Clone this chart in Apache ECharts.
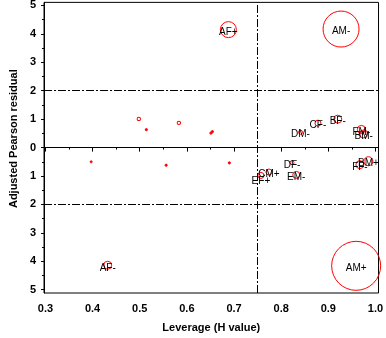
<!DOCTYPE html>
<html>
<head>
<meta charset="utf-8">
<script src="https://cdn.jsdelivr.net/npm/echarts@6/dist/echarts.min.js"></script>
<style>
html,body{margin:0;padding:0;background:#fff;}
#chart{width:386px;height:338px;}
</style>
</head>
<body>
<div id="chart"></div>
<script>
// ---- data ----
const pointNames = ['AF+','AM-','AM+','AF-','CF-','BF-','DM-','FM-','BM-','DF-','EM-','BM+','FF-','CM+','EF+',
                    '','','','','','','',''];
const leverage = [0.688,0.927,0.959,0.432,0.878,0.920,0.841,0.970,0.975,0.823,0.832,0.985,0.967,0.774,0.757,
                  0.498,0.514,0.583,0.651,0.654,0.397,0.556,0.690];
const residual = [4.15,4.17,-4.16,-4.14,0.86,1.00,0.54,0.64,0.48,-0.53,-0.96,-0.48,-0.60,-0.86,-0.98,
                  1.01,0.63,0.87,0.51,0.56,-0.50,-0.62,-0.54];
const influence = [8,18,24.5,4,3,4,2,4,4,2,3.5,4.5,4,3,3,
                   1.7,1.1,1.7,1.1,1.1,1,1.1,1.1];
const refY = [2,0,-2];
const refX = [0.75];
const xTicks = [0.3,0.4,0.5,0.6,0.7,0.8,0.9,1.0];
const xTickLabels = ['0.3','0.4','0.5','0.6','0.7','0.8','0.9','1.0'];
const xMinorTicks = [0.35,0.45,0.55,0.65,0.75,0.85,0.95];
const yTicks = [5,4,3,2,1,0,-1,-2,-3,-4,-5];
const yTickLabels = ['5','4','3','2','1','0','1','2','3','4','5'];
const yMinorTicks = [4.5,3.5,2.5,1.5,0.5,-0.5,-1.5,-2.5,-3.5,-4.5];

// ---- styles ----
const FONT = 'Liberation Sans';
const labelOffsets = {'EF+':[0,6]};
const dashDot = [8,2,2,2];

const chart = echarts.init(document.getElementById('chart'), null, {renderer:'canvas'});
const data = leverage.map((x,i)=>{
  const item = {name: pointNames[i], value:[x, residual[i], influence[i]]};
  if (labelOffsets[pointNames[i]]) item.label = {offset: labelOffsets[pointNames[i]]};
  return item;
});

const xMin = 0.3 - 1.5/494, xMax = xMin + 350.5/494;
const yMax = 5.109, yMin = -5.116;

chart.setOption({
  animation:false,
  backgroundColor:'#fff',
  grid:{left:31, right:4.5, top:1, bottom:42, show:true, borderColor:'#000', borderWidth:1, backgroundColor:'transparent'},
  xAxis:[{
    type:'value', min:xMin, max:xMax,
    axisLine:{show:true, lineStyle:{color:'#000', width:1}},
    axisTick:{show:true, customValues:xTicks, length:4, lineStyle:{color:'#000'}},
    axisLabel:{customValues:xTicks, formatter:v=>xTickLabels[xTicks.findIndex(t=>Math.abs(t-v)<1e-6)],
               margin:10, color:'#000', fontFamily:FONT, fontSize:11, fontWeight:'bold'},
    splitLine:{show:false},
    name:'Leverage (H value)', nameLocation:'middle', nameGap:29,
    nameTextStyle:{color:'#000', fontFamily:FONT, fontSize:11, fontWeight:'bold'}
  },{
    type:'value', min:xMin, max:xMax, position:'bottom',
    axisLine:{show:false},
    axisTick:{show:true, customValues:xMinorTicks, length:2, lineStyle:{color:'#000'}},
    axisLabel:{show:false}, splitLine:{show:false}
  }],
  yAxis:[{
    type:'value', min:yMin, max:yMax,
    axisLine:{show:true, lineStyle:{color:'#000', width:1}},
    axisTick:{show:true, customValues:yTicks, length:3, lineStyle:{color:'#000'}},
    axisLabel:{customValues:yTicks, formatter:v=>yTickLabels[yTicks.findIndex(t=>Math.abs(t-v)<1e-6)],
               margin:8, color:'#000', fontFamily:FONT, fontSize:11, fontWeight:'bold'},
    splitLine:{show:false},
    name:'Adjusted Pearson residual', nameLocation:'middle', nameGap:13,
    nameTextStyle:{color:'#000', fontFamily:FONT, fontSize:11, fontWeight:'bold', padding:[0,0,0,18]}
  },{
    type:'value', min:yMin, max:yMax, position:'left',
    axisLine:{show:false},
    axisTick:{show:true, customValues:yMinorTicks, length:2, lineStyle:{color:'#000'}},
    axisLabel:{show:false}, splitLine:{show:false}
  }],
  series:[{
    type:'scatter', xAxisIndex:0, yAxisIndex:0,
    data:data,
    symbol:'circle',
    symbolSize:v=>2*v[2],
    itemStyle:{color:p=>p.value[2] < 1.5 ? '#ff0000' : 'rgba(0,0,0,0)', borderColor:'#ff0000', borderWidth:1, opacity:1},
    label:{show:true, position:'inside', formatter:p=>p.name, color:'#000',
           fontFamily:FONT, fontSize:10, offset:[0,2.5]},
    emphasis:{disabled:true},
    markLine:{
      silent:true, symbol:'none', animation:false,
      label:{show:false},
      lineStyle:{color:'#000', width:1, type:dashDot},
      data:[...refY.map(v=>({yAxis:v})), ...refX.map(v=>({xAxis:v}))]
    }
  }]
});
</script>
</body>
</html>
